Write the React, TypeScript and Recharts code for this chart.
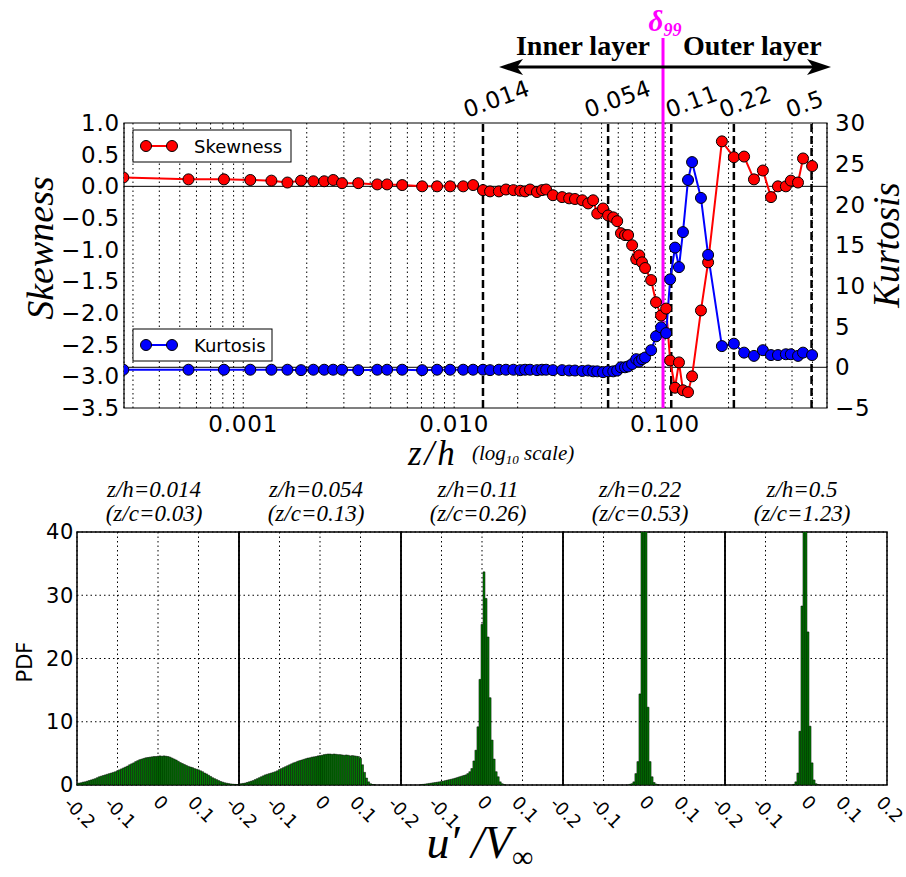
import React from "react";
import {
  ComposedChart,
  BarChart,
  Bar,
  Line,
  XAxis,
  YAxis,
  CartesianGrid,
  ReferenceLine,
  ReferenceArea,
} from "recharts";

// ---- top panel: skewness / kurtosis vs z/h (log scale) ----
const zOverH = [
  0.00027, 0.00055, 0.00081, 0.00108, 0.00136, 0.00162, 0.00188, 0.00215, 0.00242, 0.00267,
  0.00294, 0.00351, 0.00432, 0.00481, 0.00567, 0.00705, 0.0083, 0.00957, 0.01104, 0.0123,
  0.0137, 0.0148, 0.0163, 0.0176, 0.0191, 0.0206, 0.0217, 0.0229, 0.0247, 0.0261,
  0.0273, 0.0294, 0.0325, 0.0351, 0.0374, 0.0405, 0.0432, 0.0456, 0.0477, 0.0508,
  0.0537, 0.0568, 0.0593, 0.0618, 0.0646, 0.0668, 0.0698, 0.073, 0.0754, 0.0778,
  0.0804, 0.0859, 0.0906, 0.0957, 0.1012, 0.1057, 0.1115, 0.1164, 0.1216, 0.1285,
  0.1343, 0.148, 0.16, 0.186, 0.212, 0.237, 0.264, 0.291, 0.318, 0.343,
  0.374, 0.395, 0.427, 0.451, 0.498,
];

const skewness = [
  0.14, 0.11, 0.11, 0.1, 0.09, 0.06, 0.09, 0.08, 0.08, 0.1,
  0.05, 0.05, 0.03, 0.03, 0.02, 0.0, 0.0, 0.0, 0.0, 0.02,
  -0.06, -0.08, -0.08, -0.05, -0.06, -0.07, -0.08, -0.05, -0.09, -0.06,
  -0.05, -0.14, -0.17, -0.19, -0.2, -0.22, -0.27, -0.22, -0.43, -0.35,
  -0.46, -0.49, -0.55, -0.74, -0.77, -0.77, -0.93, -1.15, -1.09, -1.2,
  -1.29, -1.48, -1.83, -2.04, -1.93, -2.75, -3.18, -2.78, -3.22, -3.25,
  -3.0, -1.96, -1.2, 0.71, 0.46, 0.47, 0.11, 0.25, -0.17, 0.0,
  0.0, 0.09, 0.06, 0.44, 0.32,
];

const kurtosis = [
  -0.3, -0.3, -0.3, -0.3, -0.3, -0.3, -0.35, -0.3, -0.3, -0.3,
  -0.3, -0.35, -0.3, -0.3, -0.3, -0.35, -0.3, -0.3, -0.3, -0.3,
  -0.3, -0.35, -0.3, -0.3, -0.3, -0.35, -0.3, -0.3, -0.35, -0.3,
  -0.3, -0.35, -0.35, -0.4, -0.4, -0.45, -0.4, -0.5, -0.5, -0.6,
  -0.5, -0.5, -0.4, 0.0, 0.0, 0.1, 0.4, 1.0, 0.7, 1.0,
  1.2, 2.1, 3.8, 4.9, 4.2, 10.8, 14.7, 12.3, 16.6, 23.0,
  25.2, 20.8, 13.8, 2.6, 2.9, 1.8, 1.4, 2.1, 1.5, 1.5,
  1.6, 1.6, 1.4, 1.8, 1.5,
];

const logTicks = [
  0.0003, 0.0004, 0.0005, 0.0006, 0.0007, 0.0008, 0.0009,
  0.001, 0.002, 0.003, 0.004, 0.005, 0.006, 0.007, 0.008, 0.009,
  0.01, 0.02, 0.03, 0.04, 0.05, 0.06, 0.07, 0.08, 0.09,
  0.1, 0.2, 0.3, 0.4, 0.5,
];
const decadeTicks = [0.001, 0.01, 0.1];
const skewTicks = [1, 0.5, 0, -0.5, -1, -1.5, -2, -2.5, -3, -3.5];
const kurtTicks = [30, 25, 20, 15, 10, 5, 0, -5];

const markerPositions = [0.0137, 0.0537, 0.107, 0.212, 0.495];
const markerLabels = ["0.014", "0.054", "0.11", "0.22", "0.5"];
const delta99 = 0.0978;

// ---- bottom panels: PDF histograms of u'/V ----
const binCenters = [
  -0.2, -0.195, -0.19, -0.185, -0.18, -0.175, -0.17, -0.165, -0.16, -0.155,
  -0.15, -0.145, -0.14, -0.135, -0.13, -0.125, -0.12, -0.115, -0.11, -0.105,
  -0.1, -0.095, -0.09, -0.085, -0.08, -0.075, -0.07, -0.065, -0.06, -0.055,
  -0.05, -0.045, -0.04, -0.035, -0.03, -0.025, -0.02, -0.015, -0.01, -0.005,
  0,
  0.005, 0.01, 0.015, 0.02, 0.025, 0.03, 0.035, 0.04, 0.045, 0.05,
  0.055, 0.06, 0.065, 0.07, 0.075, 0.08, 0.085, 0.09, 0.095, 0.1,
  0.105, 0.11, 0.115, 0.12, 0.125, 0.13, 0.135, 0.14, 0.145, 0.15,
  0.155, 0.16, 0.165, 0.17, 0.175, 0.18, 0.185, 0.19, 0.195, 0.2,
];

const pdf014 = [
  0.25, 0.3, 0.35, 0.45, 0.5, 0.6, 0.7, 0.8, 0.9, 1.0,
  1.15, 1.3, 1.4, 1.5, 1.6, 1.7, 1.8, 1.9, 2.0, 2.1,
  2.25, 2.4, 2.55, 2.7, 2.85, 3.0, 3.2, 3.35, 3.5, 3.7,
  3.85, 4.0, 4.1, 4.2, 4.3, 4.35, 4.4, 4.45, 4.5, 4.5,
  4.55,
  4.6, 4.55, 4.6, 4.55, 4.5, 4.4, 4.25, 4.1, 3.95, 3.75,
  3.55, 3.4, 3.25, 3.1, 2.95, 2.85, 2.75, 2.6, 2.5, 2.4,
  2.25, 2.1, 1.9, 1.75, 1.55, 1.35, 1.15, 1.0, 0.85, 0.7,
  0.55, 0.45, 0.35, 0.28, 0.22, 0.17, 0.13, 0.1, 0.08, 0.06,
];

const pdf054 = [
  0.15, 0.2, 0.25, 0.3, 0.4, 0.5, 0.6, 0.7, 0.85, 1.0,
  1.15, 1.3, 1.45, 1.6, 1.7, 1.8, 1.9, 2.0, 2.1, 2.25,
  2.45, 2.6, 2.75, 2.9, 3.05, 3.2, 3.35, 3.5, 3.6, 3.75,
  3.85, 3.95, 4.05, 4.15, 4.25, 4.3, 4.4, 4.45, 4.5, 4.6,
  4.65,
  4.7, 4.8, 4.85, 4.9, 4.9, 4.85, 4.9, 4.85, 4.8, 4.8,
  4.75, 4.7, 4.75, 4.7, 4.6, 4.65, 4.6, 4.55, 4.5, 4.2,
  3.2, 2.0, 1.1, 0.5, 0.2, 0.08, 0.03, 0, 0, 0,
  0, 0, 0, 0, 0, 0, 0, 0, 0, 0,
];

const pdf011 = [
  0, 0, 0, 0, 0, 0, 0, 0, 0, 0,
  0.05, 0.1, 0.15, 0.2, 0.25, 0.3, 0.35, 0.4, 0.45, 0.5,
  0.55, 0.62, 0.7, 0.78, 0.85, 0.92, 1.0, 1.1, 1.2, 1.3,
  1.4, 1.5, 1.6, 1.8, 2.1, 2.6, 3.8, 5.5, 9.2, 16.7,
  25.4,
  33.7, 29.5, 23.4, 13.8, 7.1, 4.1, 2.1, 1.3, 0.5, 0.2,
  0.05, 0, 0, 0, 0, 0, 0, 0, 0, 0,
  0, 0, 0, 0, 0, 0, 0, 0, 0, 0,
  0, 0, 0, 0, 0, 0, 0, 0, 0, 0,
];

const pdf022 = [
  0, 0, 0, 0, 0, 0, 0, 0, 0, 0,
  0, 0, 0, 0, 0, 0, 0, 0, 0, 0,
  0, 0, 0, 0, 0, 0, 0, 0, 0, 0,
  0, 0, 0, 0.1, 0.2, 0.5, 1.8, 3.7, 14.4, 48,
  60,
  50, 12.3, 3.7, 1.3, 0.4, 0.15, 0.05, 0, 0, 0,
  0, 0, 0, 0, 0, 0, 0, 0, 0, 0,
  0, 0, 0, 0, 0, 0, 0, 0, 0, 0,
  0, 0, 0, 0, 0, 0, 0, 0, 0, 0,
];

const pdf05 = [
  0, 0, 0, 0, 0, 0, 0, 0, 0, 0,
  0, 0, 0, 0, 0, 0, 0, 0, 0, 0,
  0, 0, 0, 0, 0, 0, 0, 0, 0, 0,
  0, 0, 0, 0, 0.1, 0.5, 1.9, 8.5, 28.3, 45,
  52,
  24.2, 9.3, 3.5, 0.8, 0.2, 0.05, 0, 0, 0, 0,
  0, 0, 0, 0, 0, 0, 0, 0, 0, 0,
  0, 0, 0, 0, 0, 0, 0, 0, 0, 0,
  0, 0, 0, 0, 0, 0, 0, 0, 0, 0,
];

const panelSeries = [pdf014, pdf054, pdf011, pdf022, pdf05];
const panelTitles = ["z/h=0.014", "z/h=0.054", "z/h=0.11", "z/h=0.22", "z/h=0.5"];
const panelSubtitles = ["(z/c=0.03)", "(z/c=0.13)", "(z/c=0.26)", "(z/c=0.53)", "(z/c=1.23)"];
const pdfTicks = [0, 10, 20, 30, 40];
const uTicks = [-0.2, -0.1, 0, 0.1, 0.2];

const SANS = "'DejaVu Sans', sans-serif";
const SERIF = "'Liberation Serif', 'DejaVu Serif', serif";
const MAGENTA = "#ff00ff";

const withMinus = (v: number, digits: number) => {
  const s = Math.abs(v).toFixed(digits);
  return v < 0 ? "\u2212" + s : s;
};

const profileData = zOverH.map((z, i) => ({ z, skew: skewness[i], kurt: kurtosis[i] }));

// label offsets for the dashed position markers (matplotlib text was placed by hand)
const markerDx = [-16, -20, -2, -11, -22];

const tickStyle = { fill: "#000", fontSize: 23, fontFamily: SANS, letterSpacing: 0.8 };

const Delta99Marker = (p: any) => {
  const { x, y } = p.viewBox;
  return (
    <g>
      <line x1={x} x2={x} y1={38} y2={y} stroke={MAGENTA} strokeWidth={3} />
      <text
        x={x + 2}
        y={31}
        textAnchor="middle"
        fill={MAGENTA}
        fontFamily={SERIF}
        fontWeight="bold"
        fontStyle="italic"
        fontSize={29}
      >
        δ
        <tspan fontSize={18} dy={5}>
          99
        </tspan>
      </text>
      <line x1={x - 158} x2={x + 162} y1={67} y2={67} stroke="#000" strokeWidth={3} />
      <polygon points={`${x - 164},67 ${x - 140},59 ${x - 146},67 ${x - 140},75`} fill="#000" />
      <polygon points={`${x + 168},67 ${x + 144},59 ${x + 150},67 ${x + 144},75`} fill="#000" />
      <text x={x - 13} y={55} textAnchor="end" fontFamily={SERIF} fontWeight="bold" fontSize={28} fill="#000">
        Inner layer
      </text>
      <text x={x + 20} y={55} textAnchor="start" fontFamily={SERIF} fontWeight="bold" fontSize={28} fill="#000">
        Outer layer
      </text>
    </g>
  );
};

const ProfileChart = () => (
  <div style={{ position: "absolute", left: 0, top: 0 }}>
    <ComposedChart
      width={906}
      height={470}
      data={profileData}
      margin={{ top: 123, right: 29, bottom: 22, left: 64 }}
    >
      <CartesianGrid horizontal={false} stroke="#000" strokeDasharray="1.5 3" />
      <XAxis
        type="number"
        dataKey="z"
        scale="log"
        domain={[0.000272, 0.586]}
        allowDataOverflow
        ticks={logTicks}
        interval={0}
        height={40}
        axisLine={false}
        tickLine={false}
        tickSize={0}
        tickMargin={8}
        tick={tickStyle}
        tickFormatter={(v: number) => (decadeTicks.includes(v) ? v.toFixed(3) : "")}
      />
      <YAxis
        yAxisId="left"
        domain={[-3.5, 1]}
        ticks={skewTicks}
        interval={0}
        width={60}
        axisLine={false}
        tickLine={false}
        tickSize={0}
        tickMargin={4}
        tick={tickStyle}
        tickFormatter={(v: number) => withMinus(v, 1)}
      />
      <YAxis
        yAxisId="right"
        orientation="right"
        domain={[-5, 30]}
        ticks={kurtTicks}
        interval={0}
        width={50}
        axisLine={false}
        tickLine={false}
        tickSize={0}
        tickMargin={8}
        tick={tickStyle}
        tickFormatter={(v: number) => withMinus(v, 0)}
      />
      <ReferenceLine yAxisId="left" y={0} stroke="#000" strokeWidth={1} />
      <ReferenceLine yAxisId="right" y={0} stroke="#000" strokeWidth={1} />
      {markerPositions.map((m, i) => (
        <ReferenceLine
          key={m}
          yAxisId="left"
          x={m}
          stroke="#000"
          strokeWidth={2.5}
          strokeDasharray="8 4"
          label={(p: any) => {
            const tx = p.viewBox.x + markerDx[i];
            const ty = p.viewBox.y - 5;
            return (
              <text
                x={tx}
                y={ty}
                transform={`rotate(-20 ${tx} ${ty})`}
                fontFamily={SANS}
                fontSize={23}
                letterSpacing={0.6}
                fill="#000"
              >
                {markerLabels[i]}
              </text>
            );
          }}
        />
      ))}
      <ReferenceLine
        yAxisId="left"
        x={delta99}
        stroke={MAGENTA}
        strokeWidth={3}
        label={(p: any) => <Delta99Marker {...p} />}
      />
      <Line
        yAxisId="left"
        dataKey="skew"
        stroke="#ff0000"
        strokeWidth={2}
        dot={{ r: 5.5, fill: "#ff0000", stroke: "#000", strokeWidth: 1 }}
        activeDot={false}
        isAnimationActive={false}
      />
      <Line
        yAxisId="right"
        dataKey="kurt"
        stroke="#0000ff"
        strokeWidth={2}
        dot={{ r: 5.5, fill: "#0000ff", stroke: "#000", strokeWidth: 1 }}
        activeDot={false}
        isAnimationActive={false}
      />
      <ReferenceArea
        yAxisId="left"
        x1={0.000272}
        x2={0.586}
        y1={-3.5}
        y2={1}
        fill="none"
        stroke="#000"
        strokeWidth={1.2}
        ifOverflow="visible"
      />
    </ComposedChart>
  </div>
);

// rotated bottom tick; the right-edge "0.2" is drawn only on the last panel,
// the neighbour's "-0.2" sits on the shared border
const RotatedTick = (p: any) => {
  const v = p.payload.value;
  if (!p.showLast && v === 0.2) return null;
  const label = String(v);
  const cx = p.x + 3;
  const cy = p.y + 14 + label.length * 3.4;
  return (
    <text
      x={cx}
      y={cy}
      textAnchor="middle"
      dominantBaseline="central"
      transform={`rotate(45 ${cx} ${cy})`}
      fontFamily={SANS}
      fontSize={18}
      fill="#000"
    >
      {label}
    </text>
  );
};

const PANEL_LEFT = 77;
const PANEL_WIDTH = 162;

const PdfPanel = ({ values, index, last }: { values: number[]; index: number; last: boolean }) => {
  const data = binCenters.map((u, i) => ({ u, pdf: values[i] }));
  const first = index === 0;
  return (
    <div style={{ position: "absolute", left: PANEL_LEFT + index * PANEL_WIDTH - 60, top: 512 }}>
      <BarChart
        width={PANEL_WIDTH + 90}
        height={323}
        data={data}
        margin={{ top: 20, right: 30, bottom: 0, left: first ? 10 : 60 }}
      >
        <CartesianGrid stroke="#000" strokeDasharray="1.5 3" />
        <XAxis
          type="number"
          dataKey="u"
          domain={[-0.2, 0.2]}
          allowDataOverflow
          ticks={uTicks}
          interval={0}
          height={50}
          axisLine={false}
          tickLine={false}
          tickSize={0}
          tickMargin={0}
          tick={(p: any) => <RotatedTick {...p} showLast={last} />}
        />
        <YAxis
          domain={[0, 40]}
          allowDataOverflow
          ticks={pdfTicks}
          interval={0}
          hide={!first}
          width={50}
          axisLine={false}
          tickLine={false}
          tickSize={0}
          tickMargin={3}
          tick={{ fill: "#000", fontSize: 21, fontFamily: SANS, letterSpacing: 0.6 }}
        />
        <Bar
          dataKey="pdf"
          fill="#008000"
          stroke="#000"
          strokeWidth={0.5}
          barSize={2}
          isAnimationActive={false}
        />
        <ReferenceArea
          x1={-0.2}
          x2={0.2}
          y1={0}
          y2={40}
          fill="none"
          stroke="#000"
          strokeWidth={1.5}
          ifOverflow="visible"
        />
      </BarChart>
    </div>
  );
};

const legendItems = [
  { name: "Skewness", color: "#ff0000", top: 130, width: 158 },
  { name: "Kurtosis", color: "#0000ff", top: 329, width: 139 },
];

const Annotations = () => (
  <svg
    width={906}
    height={877}
    style={{ position: "absolute", left: 0, top: 0, pointerEvents: "none" }}
  >
    {legendItems.map((it) => (
      <g key={it.name}>
        <rect x={133} y={it.top} width={it.width} height={32} fill="#fff" stroke="#000" strokeWidth={1} />
        <line x1={146} x2={172} y1={it.top + 16} y2={it.top + 16} stroke={it.color} strokeWidth={2} />
        <circle cx={146} cy={it.top + 16} r={5.5} fill={it.color} stroke="#000" />
        <circle cx={172} cy={it.top + 16} r={5.5} fill={it.color} stroke="#000" />
        <text x={194} y={it.top + 16} dominantBaseline="central" fontFamily={SANS} fontSize={18} fill="#000">
          {it.name}
        </text>
      </g>
    ))}
    <text
      x={53}
      y={248}
      textAnchor="middle"
      transform="rotate(-90 53 248)"
      fontFamily={SERIF}
      fontStyle="italic"
      fontSize={38}
      fill="#000"
    >
      Skewness
    </text>
    <text
      x={899}
      y={245}
      textAnchor="middle"
      transform="rotate(-90 899 245)"
      fontFamily={SERIF}
      fontStyle="italic"
      fontSize={37}
      fill="#000"
    >
      Kurtosis
    </text>
    <text x={408} y={465} fontFamily={SERIF} fontStyle="italic" fontSize={35} letterSpacing={3} fill="#000">
      z/h
    </text>
    <text x={472} y={460} fontFamily={SERIF} fontStyle="italic" fontSize={21} fill="#000">
      (log
      <tspan fontSize={13} dy={4}>
        10
      </tspan>
      <tspan dy={-4}> scale)</tspan>
    </text>
    {panelTitles.map((t, i) => {
      const cx = PANEL_LEFT + i * PANEL_WIDTH + PANEL_WIDTH / 2 - 4;
      return (
        <g key={t}>
          <text x={cx} y={497} textAnchor="middle" fontFamily={SERIF} fontStyle="italic" fontSize={23} fill="#000">
            {t}
          </text>
          <text x={cx} y={521} textAnchor="middle" fontFamily={SERIF} fontStyle="italic" fontSize={23} fill="#000">
            {panelSubtitles[i]}
          </text>
        </g>
      );
    })}
    <text
      x={32}
      y={662}
      textAnchor="middle"
      transform="rotate(-90 32 662)"
      fontFamily={SANS}
      fontSize={21}
      fill="#000"
    >
      PDF
    </text>
    <text x={480} y={858} textAnchor="middle" fontFamily={SERIF} fontStyle="italic" fontSize={46} fill="#000">
      u′ /V
      <tspan fontSize={30} dy={9} fontStyle="normal">
        ∞
      </tspan>
    </text>
  </svg>
);

export default function App() {
  return (
    <div style={{ position: "absolute", left: 0, top: 0, width: 906, height: 877, background: "#fff" }}>
      <ProfileChart />
      {panelSeries.map((vals, i) => (
        <PdfPanel key={i} values={vals} index={i} last={i === panelSeries.length - 1} />
      ))}
      <Annotations />
    </div>
  );
}
